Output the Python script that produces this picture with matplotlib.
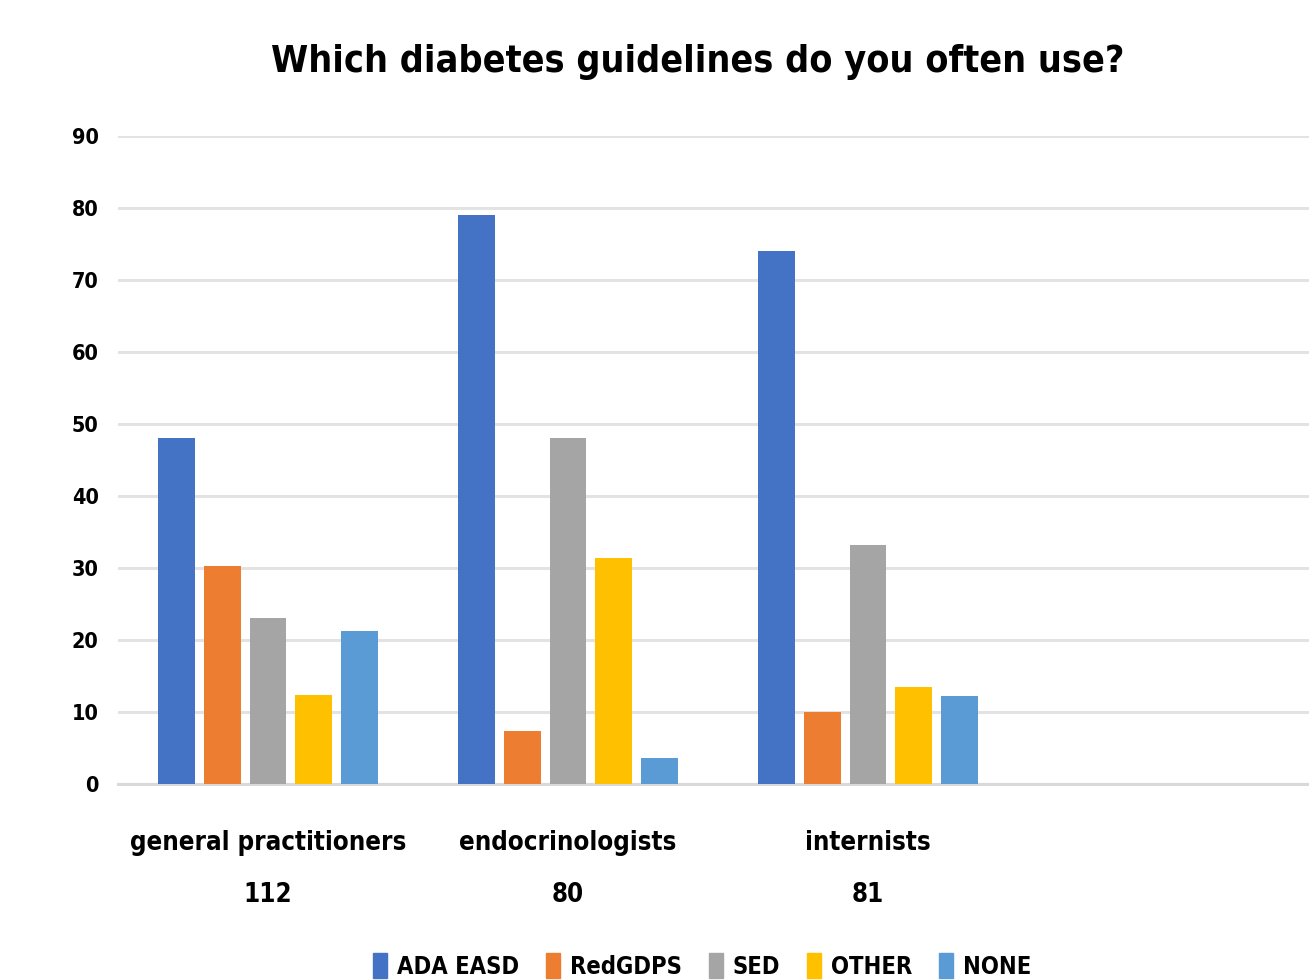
import matplotlib
matplotlib.use("Agg")
import matplotlib.pyplot as plt
import numpy as np
from matplotlib.patches import Patch

plt.rcParams['font.family'] = ['DejaVu Sans']
plt.rcParams['font.stretch'] = 'condensed'
plt.rcParams['font.weight'] = 'bold'

# survey answers per specialty (share of respondents)
groups = ['general practitioners\n112', 'endocrinologists\n80', 'internists\n81', '']
series = ['ADA EASD', 'RedGDPS', 'SED', 'OTHER', 'NONE']
ada_easd = [48, 79, 74]
red_gdps = [30.3, 7.4, 10]
sed = [23, 48, 33.2]
other = [12.3, 31.4, 13.5]
none = [21.2, 3.6, 12.2]
colors = ['#4472C4', '#ED7D31', '#A5A5A5', '#FFC000', '#5B9BD5']

fig = plt.figure(figsize=(13.09, 9.8), dpi=100)
ax = fig.add_axes([118 / 1309, 0.2, 1200 / 1309, 0.6612])

x = np.arange(3)
pitch = 0.153
width = 0.123
for i, (vals, c) in enumerate(zip([ada_easd, red_gdps, sed, other, none], colors)):
    ax.bar(x + (i - 2) * pitch, vals, width=width, color=c, zorder=3)

ax.set_xlim(-0.5, 3.5)
ax.set_ylim(0, 90)
ax.set_yticks(range(0, 91, 10))
ax.grid(axis='y', color='#e3e3e3', linewidth=2.2, zorder=0)
for s in ['top', 'right', 'left']:
    ax.spines[s].set_visible(False)
ax.spines['bottom'].set_color('#d9d9d9')
ax.spines['bottom'].set_linewidth(2.2)

ax.set_xticks(range(4))
ax.set_xticklabels(groups, fontsize=18.5, linespacing=2.3)
ax.tick_params(axis='x', length=0, pad=33)
ax.tick_params(axis='y', length=0, pad=14, labelsize=15.5)

fig.text(698 / 1309, 1 - 62 / 980, 'Which diabetes guidelines do you often use?',
         ha='center', va='center', fontsize=27, fontweight='bold')

handles = [Patch(color=c, label=s) for s, c in zip(series, colors)]
fig.legend(handles=handles, loc='center', bbox_to_anchor=(702 / 1309, 1 - 966 / 980),
           ncol=5, frameon=False, fontsize=17, handlelength=0.6, handleheight=1.2,
           handletextpad=0.4, columnspacing=1.15)

fig.savefig('out.png', dpi=100)
